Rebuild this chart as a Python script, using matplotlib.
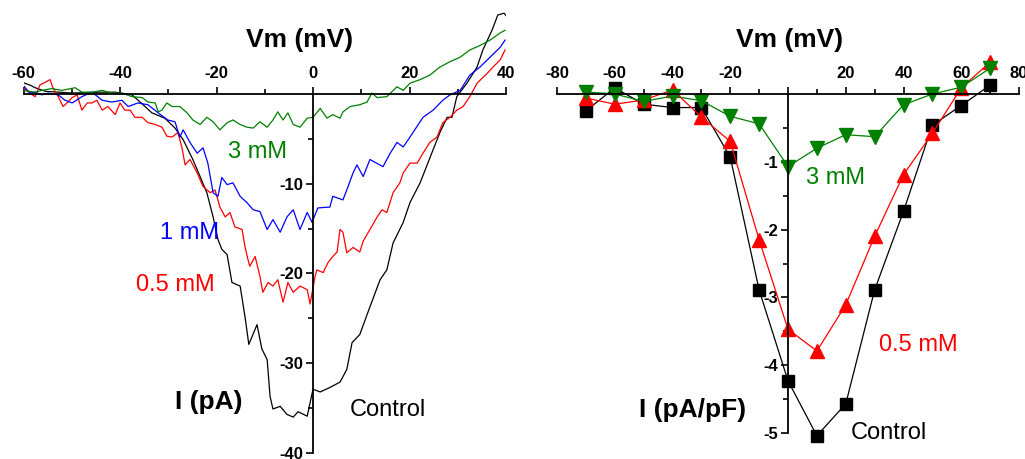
import matplotlib
matplotlib.use('Agg')
import matplotlib.pyplot as plt

plt.rcParams['font.family'] = ['Liberation Sans', 'DejaVu Sans']

# left panel: ramp currents, Vm (mV) vs I (pA)
ctrl_v = [-60.3, -58.7, -57.6, -55.5, -50.0, -44.6, -41.0, -37.5, -34.8, -33.4, -30.7, -28.6,
          -26.9, -24.9, -23.4, -22.0, -20.7, -19.7, -18.9, -17.8, -16.8, -15.1, -14.1, -13.3,
          -11.6, -10.6, -9.5, -8.9, -8.3, -6.8, -5.4, -4.1, -3.1, -1.2, 0.0, 1.5, 3.5, 5.6,
          7.0, 8.1, 9.7, 11.4, 13.9, 15.3, 16.6, 18.7, 20.1, 22.2, 24.9, 26.3, 27.8, 28.8,
          29.8, 31.9, 34.0, 35.2, 37.1, 38.3, 39.6, 40.2]
ctrl_i = [1.3, 1.0, 0.7, 0.3, 0.1, 0.2, 0.2, -0.1, -1.4, -2.1, -2.7, -3.8,
          -5.1, -7.3, -9.2, -11.0, -13.7, -16.2, -17.3, -17.9, -21.0, -21.4, -24.8, -27.9,
          -25.7, -28.4, -29.6, -33.7, -35.1, -34.8, -35.7, -36.0, -35.4, -35.9, -32.9, -33.2, -32.7, -32.1,
          -30.7, -27.7, -26.8, -24.3, -20.7, -19.6, -16.6, -14.3, -12.1, -9.9, -6.2, -4.3, -2.6, -2.6,
          -0.3, 1.2, 3.0, 4.9, 7.1, 8.8, 9.0, 8.6]

half_v = [-60.1, -58.7, -57.6, -56.6, -55.5, -54.5, -53.9, -52.8, -51.8, -50.8, -49.9, -48.9,
          -47.9, -46.8, -45.8, -44.8, -43.7, -42.5, -41.0, -40.0, -39.0, -37.9, -36.9, -35.4,
          -34.2, -32.7, -31.3, -30.3, -29.2, -28.0, -27.2, -26.5, -25.5, -24.0, -22.8, -21.3,
          -20.3, -19.3, -18.2, -17.2, -16.2, -14.7, -14.1, -13.5, -13.1, -12.0, -11.0, -10.4,
          -9.3, -8.3, -7.3, -6.2, -5.2, -4.1, -2.7, -1.2, -0.6, 0.4, 0.8, 2.1, 3.1, 4.1, 5.0,
          5.6, 6.2, 7.0, 8.3, 9.7, 10.4, 11.8, 13.3, 14.3, 15.3, 16.6, 18.0, 18.7, 20.1, 21.6,
          22.8, 24.2, 25.7, 26.9, 28.4, 29.8, 31.1, 32.5, 34.0, 36.1, 37.3, 38.8, 39.8]
half_i = [0.8, 0.1, -0.3, 1.0, 1.3, 1.6, 0.7, -0.3, -1.4, -0.9, -0.4, -0.1,
          -1.8, -1.0, -1.0, -0.7, -1.8, -1.4, -2.3, -1.0, -1.8, -1.8, -2.6, -2.6,
          -3.2, -3.4, -3.7, -4.7, -4.8, -4.3, -5.9, -7.9, -7.3, -8.8, -10.3, -11.0,
          -10.7, -12.6, -13.7, -13.2, -14.8, -15.1, -17.0, -18.4, -19.2, -18.1, -20.3, -22.1,
          -21.0, -21.4, -20.7, -23.2, -21.0, -22.1, -21.4, -21.8, -23.4, -20.4, -19.6, -19.9, -18.8, -18.1, -17.6,
          -15.1, -15.4, -17.7, -17.1, -17.6, -16.4, -15.1, -13.7, -12.9, -13.2, -11.0, -9.9, -8.8, -7.7, -7.7,
          -6.6, -5.4, -4.8, -3.2, -2.6, -1.8, -1.4, -0.3, 1.2, 2.3, 3.0, 3.8, 4.9]

one_v = [-60.1, -58.7, -57.6, -56.2, -54.9, -52.8, -51.4, -49.9, -47.9, -45.8, -43.7, -41.7,
         -39.6, -38.3, -36.3, -34.2, -32.1, -30.1, -28.6, -27.6, -26.9, -25.5, -24.0, -22.8,
         -21.8, -20.7, -19.7, -18.9, -17.8, -16.6, -15.1, -13.7, -12.4, -11.0, -9.5, -8.3,
         -6.8, -5.4, -4.1, -2.7, -1.2, -0.2, 1.0, 3.5, 4.1, 6.2, 7.0, 8.3, 9.1, 10.4, 11.8,
         14.5, 16.0, 17.4, 18.7, 20.1, 22.8, 24.9, 26.9, 28.4, 30.5, 32.5, 34.6, 36.7, 38.8, 39.8]
one_i = [1.0, 0.1, 0.2, -0.1, 0.1, -0.1, -0.7, -1.0, -0.3, 0.2, -0.7, -0.9,
         -0.7, -1.4, -1.0, -1.2, -2.1, -2.9, -3.1, -4.8, -4.0, -5.4, -6.6, -6.0,
         -7.7, -11.0, -11.4, -9.3, -10.1, -9.9, -11.4, -12.1, -12.9, -13.1, -15.1, -14.0,
         -15.4, -13.7, -12.9, -15.1, -13.2, -14.3, -12.7, -12.6, -11.4, -11.8, -10.7, -8.8, -7.9, -9.2, -7.3,
         -8.1, -6.6, -5.4, -5.9, -4.8, -2.6, -1.8, -0.7, -0.1, 0.4, 2.1, 3.0, 4.1, 5.2, 6.0]

three_v = [-60.1, -57.6, -56.2, -54.1, -52.0, -49.3, -47.9, -45.8, -43.7, -41.7, -39.6, -37.5,
           -35.4, -34.2, -32.7, -32.1, -31.3, -30.3, -29.2, -27.6, -26.1, -24.9, -23.4, -22.0,
           -20.7, -19.3, -17.8, -16.6, -15.1, -13.7, -12.4, -11.0, -9.5, -8.3, -7.3, -6.2,
           -5.2, -4.1, -2.7, -1.2, 0.0, 1.5, 2.9, 4.1, 5.6, 6.2, 7.7, 9.7, 11.2, 12.2, 13.3,
           15.3, 17.4, 18.7, 20.1, 22.2, 24.2, 26.3, 28.4, 30.5, 32.5, 34.6, 36.7, 38.8, 39.8]
three_i = [0.4, 0.2, 0.4, 0.6, 0.4, 0.7, 0.2, 0.2, 0.4, 0.1, 0.1, -0.3,
           -0.4, -0.9, -1.0, -2.0, -1.8, -1.0, -1.4, -1.4, -2.1, -2.9, -3.4, -2.6,
           -3.1, -4.0, -3.2, -2.9, -3.4, -3.7, -3.8, -3.1, -3.7, -2.9, -2.0, -2.9,
           -2.1, -3.4, -3.7, -2.7, -2.6, -1.6, -2.7, -2.3, -2.7, -2.0, -1.4, -1.2, -0.9, 0.1, -0.4,
           -0.3, 0.8, 0.4, 1.2, 1.6, 2.1, 3.0, 3.6, 4.1, 4.9, 5.4, 6.0, 6.8, 7.1]

# right panel: I-V relation, Vm (mV) vs I (pA/pF)
steps_v = [-70, -60, -50, -40, -30, -20, -10, 0, 10, 20, 30, 40, 50, 60, 70]
ctrl_d = [-0.25, 0.09, -0.15, -0.20, -0.20, -0.93, -2.89, -4.23, -5.04, -4.57, -2.89, -1.73, -0.46, -0.17, 0.13]
half_d = [-0.06, -0.15, -0.09, 0.06, -0.34, -0.70, -2.15, -3.47, -3.79, -3.11, -2.10, -1.19, -0.58, 0.09, 0.47]
three_d = [0.03, 0.0, -0.11, -0.03, -0.10, -0.33, -0.44, -1.07, -0.80, -0.60, -0.63, -0.16, 0.0, 0.10, 0.38]

GREEN = '#008000'
W, H = 1025, 459

fig = plt.figure(figsize=(W / 100, H / 100), dpi=100)

def setup(ax, xt, xlabels, yt, ylabels, xminor, yminor, ybottom):
    for s in ['bottom', 'right']:
        ax.spines[s].set_visible(False)
    ax.spines['top'].set_position(('data', 0))
    ax.spines['left'].set_position(('data', 0))
    ax.spines['left'].set_bounds(ybottom, 0)
    for s in ['top', 'left']:
        ax.spines[s].set_linewidth(1.3)
    ax.xaxis.set_ticks_position('top')
    ax.yaxis.set_ticks_position('left')
    ax.set_xticks(xt, labels=xlabels, fontsize=12, fontweight='bold')
    ax.set_yticks(yt, labels=ylabels, fontsize=12, fontweight='bold')
    ax.set_xticks(xminor, minor=True)
    ax.set_yticks(yminor, minor=True)
    ax.tick_params(which='major', direction='out', length=5, width=1.2)
    ax.tick_params(which='minor', direction='out', length=3.5, width=1.2)
    ax.tick_params(axis='x', pad=4)
    ax.tick_params(axis='y', pad=2)
    ax.patch.set_alpha(0)

# left panel
ax1 = fig.add_axes([23.5 / W, 0, (506 - 23.5) / W, 1])
ax1.plot(ctrl_v, ctrl_i, color='black', lw=0.9)
ax1.plot(half_v, half_i, color='red', lw=0.9)
ax1.plot(one_v, one_i, color='blue', lw=0.9)
ax1.plot(three_v, three_i, color=GREEN, lw=0.9)
ax1.set_xlim(-60, 40)
ax1.set_ylim(-40.67, 10.47)
setup(ax1, [-60, -40, -20, 0, 20, 40], ['-60', '-40', '-20', '0', '20', '40'],
      [-40, -30, -20, -10], ['-40', '-30', '-20', '-10'],
      [-50, -30, -10, 10, 30], [-35, -25, -15, -5], -40)
ax1.text(-2.7, 6.0, 'Vm (mV)', fontsize=19, fontweight='bold', ha='center', va='center')
ax1.text(-11.4, -6.5, '3 mM', fontsize=17, color=GREEN, ha='center', va='center')
ax1.text(-25.5, -15.5, '1 mM', fontsize=17, color='blue', ha='center', va='center')
ax1.text(-28.6, -21.3, '0.5 mM', fontsize=17, color='red', ha='center', va='center')
ax1.text(-21.6, -34.3, 'I (pA)', fontsize=19, fontweight='bold', ha='center', va='center')
ax1.text(15.5, -35.2, 'Control', fontsize=17, ha='center', va='center')

# right panel
ax2 = fig.add_axes([557 / W, 0, (1019 - 557) / W, 1])
ax2.plot(steps_v, ctrl_d, color='black', lw=0.9, marker='s', ms=8)
ax2.plot(steps_v, half_d, color='red', lw=0.9, marker='^', ms=10.5)
ax2.plot(steps_v, three_d, color=GREEN, lw=0.9, marker='v', ms=10.5)
ax2.set_xlim(-80, 80)
ax2.set_ylim(-5.383, 1.386)
setup(ax2, [-80, -60, -40, -20, 0, 20, 40, 60, 80],
      ['-80', '-60', '-40', '-20', '', '20', '40', '60', '80'],
      [-5, -4, -3, -2, -1], ['-5', '-4', '-3', '-2', '-1'],
      [-70, -50, -30, -10, 10, 30, 50, 70], [-4.5, -3.5, -2.5, -1.5, -0.5], -5)
ax2.text(0.7, 0.80, 'Vm (mV)', fontsize=19, fontweight='bold', ha='center', va='center')
ax2.text(16.6, -1.24, '3 mM', fontsize=17, color=GREEN, ha='center', va='center')
ax2.text(45, -3.70, '0.5 mM', fontsize=17, color='red', ha='center', va='center')
ax2.text(-33.2, -4.66, 'I (pA/pF)', fontsize=19, fontweight='bold', ha='center', va='center')
ax2.text(35, -5.0, 'Control', fontsize=17, ha='center', va='center')

fig.savefig('out.png', dpi=100)
